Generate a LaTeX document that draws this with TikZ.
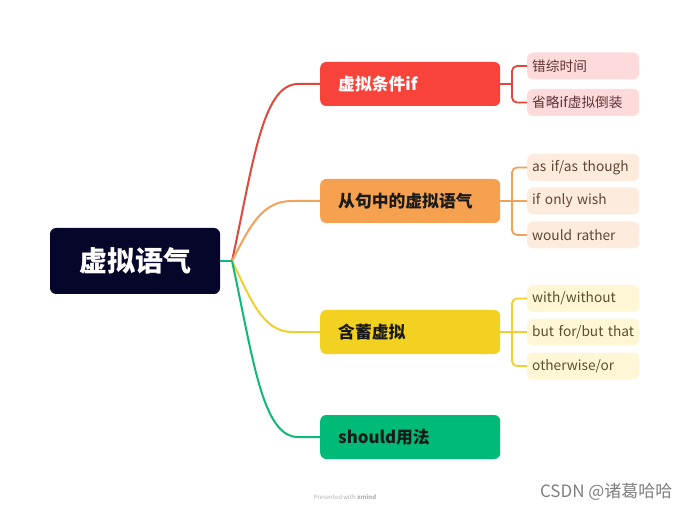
\documentclass[tikz,border=0pt]{standalone}
\usepackage{fontspec}
\setmainfont{Noto Sans CJK SC}
\definecolor{rootfill}{HTML}{06062B}
\definecolor{redfill}{HTML}{F8433A}
\definecolor{orangefill}{HTML}{F5A14F}
\definecolor{yellowfill}{HTML}{F2D121}
\definecolor{greenfill}{HTML}{00BB77}
\definecolor{redline}{HTML}{E0483E}
\definecolor{orangeline}{HTML}{F1A25A}
\definecolor{yellowline}{HTML}{F0D030}
\definecolor{greenline}{HTML}{10B87A}
\definecolor{pinkleaf}{HTML}{FFDADA}
\definecolor{peachleaf}{HTML}{FDEBDD}
\definecolor{creamleaf}{HTML}{FEF6D5}
\definecolor{pinktext}{HTML}{5E3333}
\definecolor{peachtext}{HTML}{604634}
\definecolor{creamtext}{HTML}{5A5030}
\definecolor{darktext}{HTML}{1A1A1A}
\tikzset{
  rootbox/.style={fill=rootfill, rounded corners=6pt, minimum width=170pt, minimum height=66pt,
    text=white, font=\fontsize{28}{30}\selectfont\bfseries, inner sep=0pt},
  mainbox/.style={rounded corners=6pt, minimum width=180pt, minimum height=44pt,
    text width=144pt, inner xsep=18pt, inner ysep=0pt, align=left, anchor=west,
    font=\fontsize{16.8}{20}\selectfont\bfseries},
  leafbox/.style={rounded corners=6pt, minimum width=112pt, minimum height=27pt,
    text width=102pt, inner xsep=5pt, inner ysep=0pt, align=left, anchor=west,
    font=\fontsize{13.7}{16}\selectfont},
  branch/.style={line width=2pt},
  twig/.style={line width=1.8pt, rounded corners=5pt},
}
\begin{document}
\begin{tikzpicture}[x=1pt,y=-1pt]
\useasboundingbox (0,0) rectangle (690,510);
\fill[white] (0,0) rectangle (690,510);

% root
\node[rootbox] (root) at (135,261) {虚拟语气};
\coordinate (j) at (232,261);

% main topics
\node[mainbox, fill=redfill, text=white] (m1) at (320,84) {虚拟条件if};
\node[mainbox, fill=orangefill, text=darktext] (m2) at (320,201) {从句中的虚拟语气};
\node[mainbox, fill=yellowfill, text=darktext] (m3) at (320,332) {含蓄虚拟};
\node[mainbox, fill=greenfill, text=darktext] (m4) at (320,437) {should用法};

% leaves group 1
\node[leafbox, fill=pinkleaf, text=pinktext] (l11) at (527,66) {错综时间};
\node[leafbox, fill=pinkleaf, text=pinktext] (l12) at (527,102.5) {省略if虚拟倒装};
% leaves group 2
\node[leafbox, fill=peachleaf, text=peachtext] (l21) at (527,167.5) {as if/as though};
\node[leafbox, fill=peachleaf, text=peachtext] (l22) at (527,201) {if only wish};
\node[leafbox, fill=peachleaf, text=peachtext] (l23) at (527,235) {would rather};
% leaves group 3
\node[leafbox, fill=creamleaf, text=creamtext] (l31) at (527,298.5) {with/without};
\node[leafbox, fill=creamleaf, text=creamtext] (l32) at (527,332) {but for/but that};
\node[leafbox, fill=creamleaf, text=creamtext] (l33) at (527,366) {otherwise/or};

% branches from root
\draw[branch, redline] (j) .. controls (253,165) and (262,84) .. (298,84) -- (m1.west);
\draw[branch, orangeline] (j) .. controls (250,226) and (262,201) .. (292,201) -- (m2.west);
\draw[branch, yellowline] (j) .. controls (250,297) and (262,332) .. (292,332) -- (m3.west);
\draw[branch, greenline] (j) .. controls (253,357) and (262,437) .. (298,437) -- (m4.west);
\draw[branch, greenline] (root.east) -- (j);

% twigs
\coordinate (b1) at (512,84);
\coordinate (b2) at (512,201);
\coordinate (b3) at (512,332);
\draw[twig, redline] (l11.west) -| (b1) |- (l12.west);
\draw[twig, redline] (m1.east) -- (b1);
\draw[twig, orangeline] (l21.west) -| (b2) |- (l23.west);
\draw[twig, orangeline] (m2.east) -- (l22.west);
\draw[twig, yellowline] (l31.west) -| (b3) |- (l33.west);
\draw[twig, yellowline] (m3.east) -- (l32.west);

% watermarks
\node[text=black!30, font=\fontsize{6}{7}\selectfont] (pw) at (345,497) {Presented with \textbf{xmind}};
\node[text=black!50, font=\fontsize{17}{20}\selectfont, anchor=east] (csdn) at (676,492) {CSDN @诸葛哈哈};
\end{tikzpicture}
\end{document}
